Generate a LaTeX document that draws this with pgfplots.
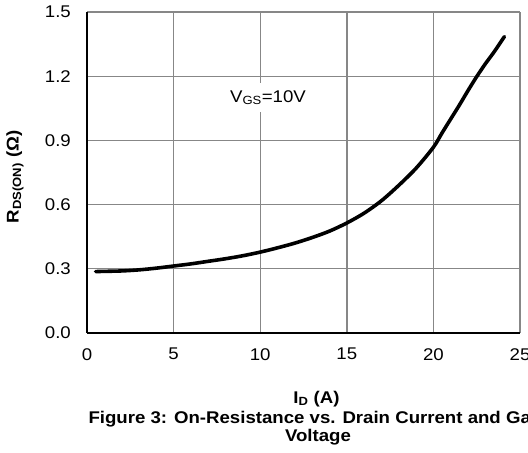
\documentclass[border=0pt]{standalone}
\usepackage{fontspec}
\setmainfont{Liberation Sans}[FakeStretch=1.1]
\usepackage{pgfplots}
\pgfplotsset{compat=1.18}
\definecolor{gridgray}{RGB}{135,135,135}
\newcommand{\chfont}{\fontsize{17}{19}\selectfont}
\begin{document}
\begin{tikzpicture}
\begin{scope}
\clip (0,0) rectangle (528bp,453bp);
\begin{axis}[
  at={(87bp,120bp)}, anchor=south west,
  scale only axis, width=433bp, height=321bp,
  xmin=0, xmax=25, ymin=0, ymax=1.5,
  xtick={0,5,10,15,20,25},
  ytick={0,0.3,0.6,0.9,1.2,1.5},
  axis x line=bottom, axis y line=left,
  axis line style={-, line width=2.2pt, black},
  major tick length=0pt,
  grid=major,
  major grid style={gridgray, line width=1.4pt},
  /pgf/number format/assume math mode=true,
  yticklabel={\pgfmathprintnumber[fixed,fixed zerofill,precision=1]{\tick}},
  tick label style={font=\chfont},
  yticklabel style={inner sep=0pt, anchor=east, xshift=-16bp},
  xticklabel style={inner sep=0pt, anchor=north, yshift=-15bp},
  xlabel={\bfseries I\textsubscript{D} (A)},
  xlabel style={at={([yshift=-66bp]axis description cs:0.53,0)}, anchor=center, font=\chfont},
  ylabel={\bfseries R\textsubscript{DS(ON)} (Ω)},
  ylabel style={at={([xshift=-72bp]axis description cs:0,0.486)}, anchor=center, font=\chfont},
  clip=false,
]
\addplot[black, line width=3.6pt, smooth, tension=0.5, line cap=round] coordinates {
(0.5,0.287) (1,0.288) (2,0.290) (3,0.295) (4,0.303) (5,0.313) (6,0.323)
(7,0.335) (8,0.347) (9,0.361) (10,0.378) (11,0.398) (12,0.420) (13,0.446)
(14,0.476) (15,0.514) (16,0.560) (17,0.618) (18,0.690) (19,0.770)
(20,0.868) (20.5,0.935) (21,1.000) (21.5,1.065) (22,1.133) (22.5,1.198)
(23,1.258) (23.5,1.313) (24.1,1.385)
};
\node[font=\chfont, fill=white, inner xsep=3bp, inner ysep=7bp] at (axis cs:10.45,1.10) {V\textsubscript{GS}=10V};
\end{axis}
\node[font=\bfseries\chfont] at (318bp,34bp) {Figure 3: On-Resistance vs. Drain Current and Gate};
\node[font=\bfseries\chfont] at (318bp,16bp) {Voltage};
\end{scope}
\pgfresetboundingbox
\useasboundingbox (0,0) rectangle (528bp,453bp);
\end{tikzpicture}
\end{document}
